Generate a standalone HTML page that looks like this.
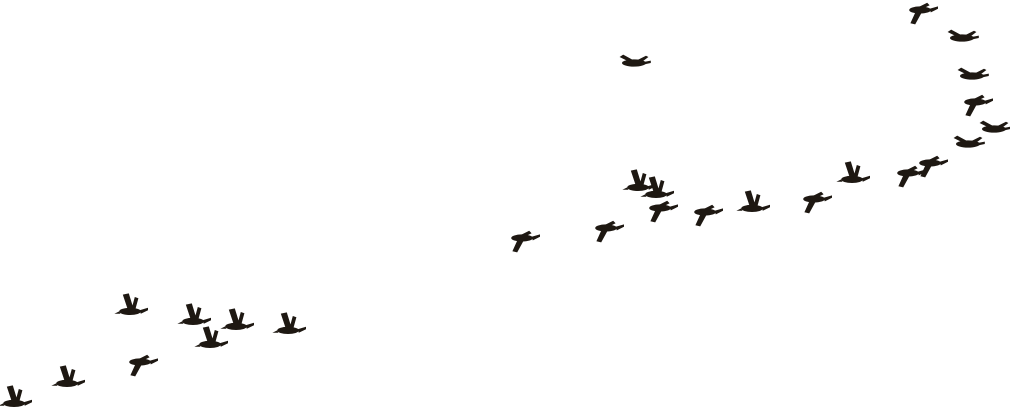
<!DOCTYPE html>
<html><head><meta charset="utf-8"><style>
html,body{margin:0;padding:0;background:#fff;width:1010px;height:412px;overflow:hidden}
svg{display:block}
</style></head><body>
<svg width="1010" height="412" viewBox="0 0 1010 412" xmlns="http://www.w3.org/2000/svg">
<defs>
<g id="b1" fill="#1e1812" transform="scale(1.2)">
<ellipse cx="0" cy="2" rx="9" ry="3"/>
<path d="M8,1 L15,-1 L15,1 L9,4 Z"/>
<path d="M-2,0 L-6,-12 L-1,-13 L3,0 Z"/>
<path d="M1,1 L4,-10 L7,-9 L4,2 Z"/>
<path d="M-9,2 L-13,4 L-8,4 Z"/>
</g>
<g id="b2" fill="#1e1812" transform="scale(1.2)">
<ellipse cx="0" cy="0" rx="9" ry="3"/>
<path d="M8,-1 L15,-3 L15,-1 L9,2 Z"/>
<path d="M-3,0 L-8,11 L-4,12 L2,1 Z"/>
<path d="M-4,-1 L6,-6 L8,-4 L0,0 Z"/>
</g>
<g id="b3" fill="#1e1812" transform="scale(1.2)">
<ellipse cx="0" cy="0" rx="10" ry="3"/>
<path d="M-12,-5 L-4,-1 L2,-1 L-9,-7 Z"/>
<path d="M0,-1 L10,-6 L12,-5 L4,1 Z"/>
<path d="M9,-1 L14,-2 L14,0 L9,1 Z"/>
</g>
</defs>
<use href="#b2" x="920" y="10"/>
<use href="#b3" x="962" y="38"/>
<use href="#b3" x="972" y="76"/>
<use href="#b2" x="975" y="102"/>
<use href="#b3" x="994" y="129"/>
<use href="#b3" x="968" y="144"/>
<use href="#b2" x="930" y="163"/>
<use href="#b2" x="908" y="173"/>
<use href="#b1" x="852" y="177"/>
<use href="#b2" x="814" y="199"/>
<use href="#b1" x="752" y="206"/>
<use href="#b2" x="705" y="212"/>
<use href="#b2" x="660" y="208"/>
<use href="#b1" x="656" y="192"/>
<use href="#b1" x="638" y="185"/>
<use href="#b3" x="634" y="63"/>
<use href="#b2" x="522" y="238"/>
<use href="#b2" x="606" y="228"/>
<use href="#b1" x="130" y="309"/>
<use href="#b1" x="193" y="319"/>
<use href="#b1" x="236" y="324"/>
<use href="#b1" x="288" y="328"/>
<use href="#b1" x="210" y="342"/>
<use href="#b2" x="140" y="362"/>
<use href="#b1" x="67" y="381"/>
<use href="#b1" x="14" y="401"/>
</svg>
</body></html>
